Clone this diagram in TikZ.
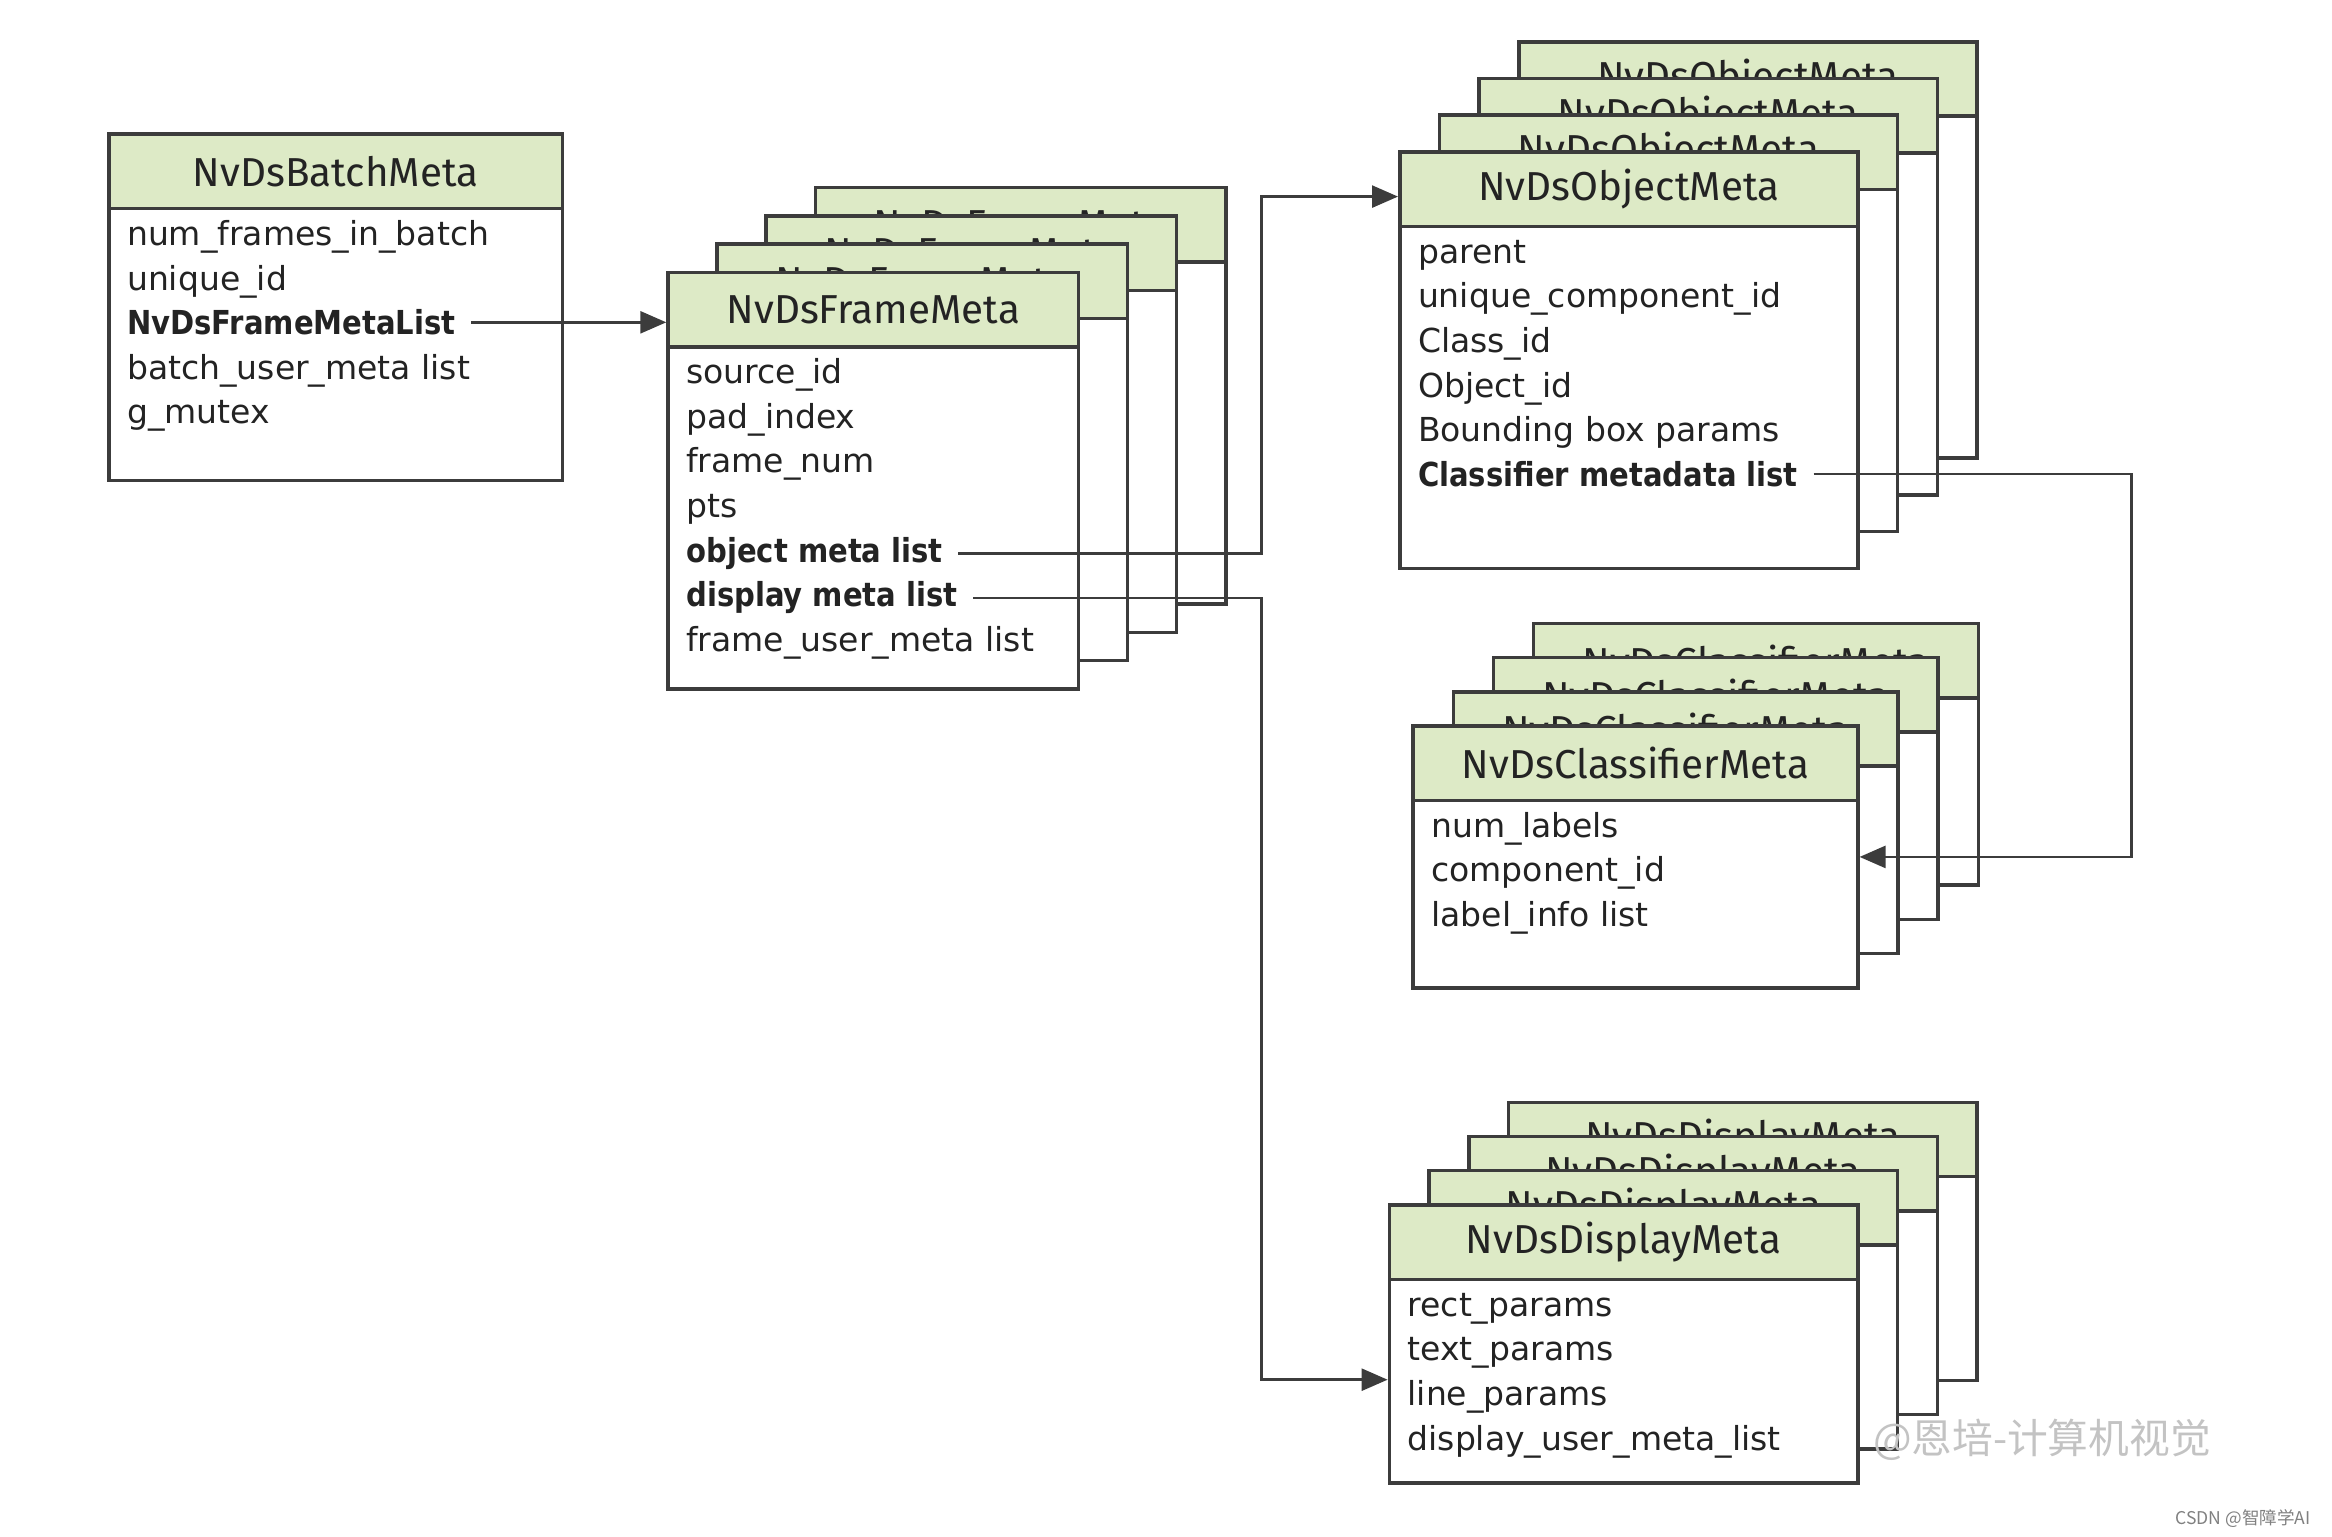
\documentclass[tikz,border=0pt]{standalone}
\usepackage{fontspec}
\setmainfont{DejaVu Sans}[BoldFeatures={FakeStretch=0.88}]
\newfontfamily\headfont{Fira Sans}
\newfontfamily\cjkfont{Noto Sans CJK SC}
\usetikzlibrary{arrows.meta,calc,positioning}

\definecolor{headgreen}{RGB}{221,234,198}
\definecolor{edgegray}{RGB}{60,60,60}
\definecolor{inkgray}{RGB}{35,35,35}
\definecolor{wmgray}{RGB}{195,195,195}

% one picture unit = one pixel of the layout
\newcommand{\pu}{0.014872cm}

\tikzset{
  card/.style={draw=edgegray, line width=1pt, fill=white, anchor=north west, inner sep=0pt},
  cardhead/.style={card, fill=headgreen, font=\headfont\fontsize{11.5}{13}\selectfont, text=inkgray},
  field/.style={anchor=base west, inner sep=0pt, font=\fontsize{9.4}{11}\selectfont, text=inkgray},
  link/.style={draw=edgegray, line width=0.75pt, -{Triangle[length=0.26cm,width=0.22cm]}},
}

% a single card: name, x, y, width, height, title
\newcommand{\metacard}[6]{%
  \node[card, minimum width=#4*\pu, minimum height=#5*\pu] (#1) at ({#2},{#3}) {};
  \node[cardhead, minimum width=#4*\pu, minimum height=50*\pu] (#1-head) at (#1.north west) {#6};
}
% a stack of four cards: name, x, y, width, height, dx, dy, title
\newcommand{\metastack}[8]{%
  \foreach \k in {3,2,1}
    {\metacard{#1-\k}{#2+\k*#6}{#3-\k*#7}{#4}{#5}{#8}}
  \metacard{#1}{#2}{#3}{#4}{#5}{#8}
}
% the fields of a card
\newcommand{\fieldlist}[2]{%
  \foreach \fld [count=\i] in {#2}
    \node[field] (#1-f\i) at ($(#1.north west)+(13,{46+30*\i})$) {\fld};
}

\begin{document}
\begin{tikzpicture}[x=\pu, y=-\pu]
    \useasboundingbox (0,0) rectangle (1568,1033);
    % the cards
    \metacard{batch}{72}{89}{305}{233}{NvDsBatchMeta}
    \fieldlist{batch}{num\_frames\_in\_batch, unique\_id, \textbf{NvDsFrameMetaList}, batch\_user\_meta list, g\_mutex}

    \metastack{frame}{448}{182}{276}{280}{33}{19}{NvDsFrameMeta}
    \fieldlist{frame}{source\_id, pad\_index, frame\_num, pts, \textbf{object meta list}, \textbf{display meta list}, frame\_user\_meta list}

    \metastack{obj}{940}{101}{308}{280}{26.7}{24.7}{NvDsObjectMeta}
    \fieldlist{obj}{parent, unique\_component\_id, Class\_id, Object\_id, Bounding box params, \textbf{Classifier metadata list}}

    \metastack{cls}{949}{487}{299}{176}{27}{23}{NvDsClassifierMeta}
    \fieldlist{cls}{num\_labels, component\_id, label\_info list}

    \metastack{disp}{933}{809}{315}{187}{26.7}{23}{NvDsDisplayMeta}
    \fieldlist{disp}{rect\_params, text\_params, line\_params, display\_user\_meta\_list}

    % the links
    \coordinate (bus) at (848,0);
    \coordinate (rbus) at (1433,0);
    \coordinate (obj-in) at ([yshift=-5*\pu]obj-head.west);
    \coordinate (disp-in) at ([yshift=-24*\pu]disp.west);
    \draw[link] ([xshift=0.15cm]batch-f3.east) -- (batch-f3.east -| frame.west);
    \draw[link] ([xshift=0.15cm]frame-f5.east) -| (bus |- obj-in) -- (obj-in);
    \draw[link] ([xshift=0.15cm]frame-f6.east) -| (bus |- disp-in) -- (disp-in);
    \draw[link] ([xshift=0.15cm]obj-f6.east) -| (rbus |- cls.east) -- (cls.east);

    % watermarks
    \node[text=wmgray, font=\cjkfont\fontsize{11.6}{14}\selectfont] (wm) at (1373,968) {@恩培-计算机视觉};
    \node[anchor=east, text=gray, font=\cjkfont\fontsize{5}{6}\selectfont] (csdn) at (1562,1021) {CSDN @智障学AI};
\end{tikzpicture}
\end{document}
